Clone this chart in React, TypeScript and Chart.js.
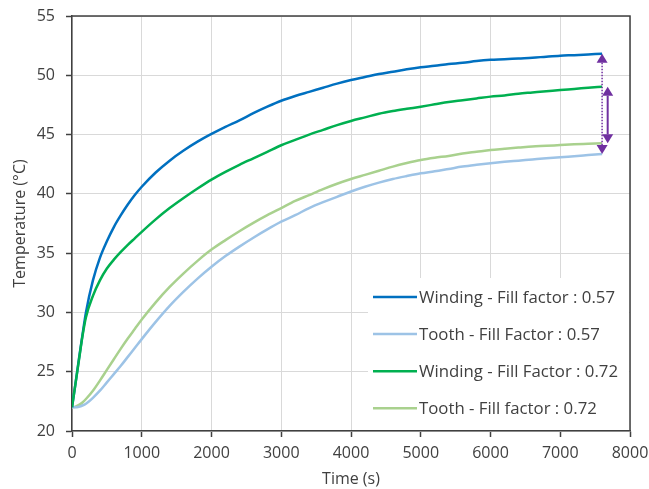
import { useEffect, useRef } from "react";
import { Chart, registerables } from "chart.js";

Chart.register(...registerables);

// Time stamps (s)
const times = [
  0, 50, 100, 150, 200, 300, 400, 500, 600, 700, 800, 900, 1000,
  1200, 1400, 1600, 1800, 2000, 2200, 2400, 2600, 2800, 3000,
  3200, 3400, 3600, 3800, 4000, 4200, 4400, 4600, 4800, 5000,
  5200, 5400, 5600, 5800, 6000, 6200, 6400, 6600, 6800, 7000,
  7200, 7400, 7600,
];

// Temperatures (°C)
const windingFF057 = [
  22.0, 24.0, 26.1, 28.1, 30.0, 32.7, 34.6, 36.0, 37.2, 38.2, 39.1, 39.9, 40.6,
  41.8, 42.8, 43.65, 44.4, 45.05, 45.65, 46.2, 46.8, 47.35, 47.85,
  48.25, 48.6, 48.95, 49.3, 49.6, 49.85, 50.1, 50.3, 50.5, 50.67,
  50.8, 50.95, 51.05, 51.2, 51.3, 51.35, 51.42, 51.48, 51.57, 51.65,
  51.7, 51.76, 51.82,
];

const toothFF057 = [
  22.0, 22.0, 22.05, 22.15, 22.3, 22.8, 23.4, 24.1, 24.8, 25.5, 26.25, 27.0, 27.75,
  29.2, 30.55, 31.75, 32.85, 33.85, 34.75, 35.55, 36.3, 37.0, 37.65,
  38.2, 38.8, 39.3, 39.75, 40.2, 40.6, 40.95, 41.25, 41.5, 41.73,
  41.9, 42.1, 42.3, 42.45, 42.58, 42.7, 42.8, 42.9, 43.0, 43.08,
  43.18, 43.27, 43.36,
];

const windingFF072 = [
  22.0, 24.0, 26.0, 28.0, 29.6, 31.4, 32.7, 33.7, 34.45, 35.1, 35.7, 36.25, 36.8,
  37.85, 38.8, 39.65, 40.45, 41.2, 41.85, 42.45, 43.0, 43.55, 44.1,
  44.55, 45.0, 45.4, 45.8, 46.15, 46.45, 46.75, 46.98, 47.17, 47.35,
  47.55, 47.75, 47.9, 48.05, 48.2, 48.3, 48.45, 48.55, 48.65, 48.76,
  48.85, 48.95, 49.04,
];

const toothFF072 = [
  22.0, 22.05, 22.2, 22.4, 22.7, 23.4, 24.25, 25.15, 26.05, 26.95, 27.8, 28.6, 29.4,
  30.85, 32.15, 33.3, 34.35, 35.3, 36.1, 36.85, 37.55, 38.2, 38.8,
  39.4, 39.9, 40.4, 40.85, 41.25, 41.6, 41.95, 42.3, 42.6, 42.86,
  43.05, 43.2, 43.4, 43.55, 43.7, 43.8, 43.9, 44.0, 44.05, 44.12,
  44.18, 44.22, 44.26,
];

const seriesLabels = [
  "Winding - Fill factor : 0.57",
  "Tooth - Fill Factor : 0.57",
  "Winding - Fill Factor : 0.72",
  "Tooth - Fill factor : 0.72",
];

// Time positions of the two temperature-gap arrows (s)
const arrowTimes = [7600, 7680];

const xTicks = [0, 1000, 2000, 3000, 4000, 5000, 6000, 7000, 8000];
const yTicks = [20, 25, 30, 35, 40, 45, 50, 55];

const FONT = "'Open Sans', 'DejaVu Sans', sans-serif";
const TEXT = "#404040";
const AXIS = "#404040";
const GRID = "#d9d9d9";
const PURPLE = "#7030A0";
const COLORS = ["#0070C0", "#9DC3E6", "#00B050", "#A9D18E"];

const toPoints = (vals: number[]) => vals.map((v, i) => ({ x: times[i], y: v }));

function drawDoubleArrow(
  ctx: CanvasRenderingContext2D,
  px: number,
  yTop: number,
  yBot: number,
  dotted: boolean
) {
  const headH = 9;
  const headW = 5.5;
  ctx.save();
  ctx.strokeStyle = PURPLE;
  ctx.fillStyle = PURPLE;
  ctx.lineWidth = dotted ? 1.5 : 2;
  if (dotted) ctx.setLineDash([1.5, 1.5]);
  ctx.beginPath();
  ctx.moveTo(px, yTop + headH);
  ctx.lineTo(px, yBot - headH);
  ctx.stroke();
  ctx.setLineDash([]);
  ctx.beginPath();
  ctx.moveTo(px, yTop);
  ctx.lineTo(px - headW, yTop + headH);
  ctx.lineTo(px + headW, yTop + headH);
  ctx.closePath();
  ctx.fill();
  ctx.beginPath();
  ctx.moveTo(px, yBot);
  ctx.lineTo(px - headW, yBot - headH);
  ctx.lineTo(px + headW, yBot - headH);
  ctx.closePath();
  ctx.fill();
  ctx.restore();
}

const insetLegend = {
  id: "insetLegend",
  afterDatasetsDraw(chart: any) {
    const { ctx, chartArea } = chart;
    const boxLeft = chartArea.right - 262;
    const boxTop = chartArea.top + 262;
    ctx.save();
    ctx.fillStyle = "#ffffff";
    ctx.fillRect(boxLeft, boxTop, chartArea.right - boxLeft - 1, chartArea.bottom - boxTop - 1);
    ctx.font = `16.8px ${FONT}`;
    ctx.textBaseline = "middle";
    ctx.textAlign = "left";
    chart.data.datasets.forEach((ds: any, i: number) => {
      const cy = boxTop + 19 + i * 37.1;
      ctx.strokeStyle = ds.borderColor;
      ctx.lineWidth = 2.5;
      ctx.beginPath();
      ctx.moveTo(boxLeft + 5, cy);
      ctx.lineTo(boxLeft + 49, cy);
      ctx.stroke();
      ctx.fillStyle = TEXT;
      ctx.fillText(ds.label, boxLeft + 51, cy + 1);
    });
    ctx.restore();
  },
};

const gapArrows = {
  id: "gapArrows",
  afterDatasetsDraw(chart: any) {
    const { ctx, scales } = chart;
    const { x, y } = scales;
    const last = times.length - 1;
    drawDoubleArrow(
      ctx,
      x.getPixelForValue(arrowTimes[0]),
      y.getPixelForValue(windingFF057[last]),
      y.getPixelForValue(toothFF057[last]),
      true
    );
    drawDoubleArrow(
      ctx,
      x.getPixelForValue(arrowTimes[1]),
      y.getPixelForValue(windingFF072[last]),
      y.getPixelForValue(toothFF072[last]),
      false
    );
  },
};

const frameBorder = {
  id: "frameBorder",
  afterDraw(chart: any) {
    const { ctx, chartArea } = chart;
    ctx.save();
    ctx.strokeStyle = AXIS;
    ctx.lineWidth = 1.5;
    ctx.beginPath();
    ctx.moveTo(chartArea.left, chartArea.top);
    ctx.lineTo(chartArea.right, chartArea.top);
    ctx.lineTo(chartArea.right, chartArea.bottom);
    ctx.stroke();
    ctx.restore();
  },
};

export default function App() {
  const canvasRef = useRef<HTMLCanvasElement | null>(null);

  useEffect(() => {
    document.body.style.margin = "0";
    const canvas = canvasRef.current;
    if (!canvas) return;

    const seriesValues = [windingFF057, toothFF057, windingFF072, toothFF072];
    const drawOrder = [1, 2, 0, 3];

    const chart = new Chart(canvas, {
      type: "line",
      data: {
        datasets: seriesValues.map((vals, i) => ({
          label: seriesLabels[i],
          data: toPoints(vals),
          borderColor: COLORS[i],
          backgroundColor: COLORS[i],
          borderWidth: 2.5,
          pointRadius: 0,
          cubicInterpolationMode: "monotone" as const,
          fill: false,
          order: drawOrder[i],
        })),
      },
      options: {
        responsive: false,
        animation: false,
        layout: { padding: { top: 16, right: 19, left: 0, bottom: 0 } },
        plugins: {
          legend: { display: false },
          tooltip: { enabled: false },
        },
        scales: {
          x: {
            type: "linear",
            min: xTicks[0],
            max: xTicks[xTicks.length - 1],
            afterBuildTicks: (scale: any) => {
              scale.ticks = xTicks.map((v) => ({ value: v }));
            },
            afterFit: (scale: any) => {
              scale.height = 58;
              scale.paddingLeft = 0;
              scale.paddingRight = 0;
            },
            ticks: {
              autoSkip: false,
              maxRotation: 0,
              padding: 7,
              color: TEXT,
              font: { family: FONT, size: 16 },
              callback: (v: any) => String(v),
            },
            grid: {
              color: GRID,
              lineWidth: 1,
              tickColor: AXIS,
              tickLength: 6,
              tickWidth: 1.5,
            },
            border: { color: AXIS, width: 1.5 },
            title: {
              display: true,
              text: "Time (s)",
              color: TEXT,
              font: { family: FONT, size: 16 },
              padding: { top: 0, bottom: 0 },
            },
          },
          y: {
            type: "linear",
            min: yTicks[0],
            max: yTicks[yTicks.length - 1],
            afterBuildTicks: (scale: any) => {
              scale.ticks = yTicks.map((v) => ({ value: v }));
            },
            afterFit: (scale: any) => {
              scale.width = 72;
              scale.paddingTop = 0;
              scale.paddingBottom = 0;
            },
            ticks: {
              padding: 11,
              color: TEXT,
              font: { family: FONT, size: 16 },
              callback: (v: any) => String(v),
            },
            grid: {
              color: GRID,
              lineWidth: 1,
              tickColor: AXIS,
              tickLength: 6,
              tickWidth: 1.5,
            },
            border: { color: AXIS, width: 1.5 },
            title: {
              display: true,
              text: "Temperature (°C)",
              color: TEXT,
              font: { family: FONT, size: 16 },
              padding: { top: 11, bottom: 0 },
            },
          },
        },
      },
      plugins: [insetLegend, gapArrows, frameBorder],
    });

    return () => chart.destroy();
  }, []);

  return (
    <div style={{ position: "fixed", left: 0, top: 0, width: 649, height: 489, background: "#fff" }}>
      <canvas ref={canvasRef} width={649} height={489} style={{ display: "block" }} />
    </div>
  );
}
